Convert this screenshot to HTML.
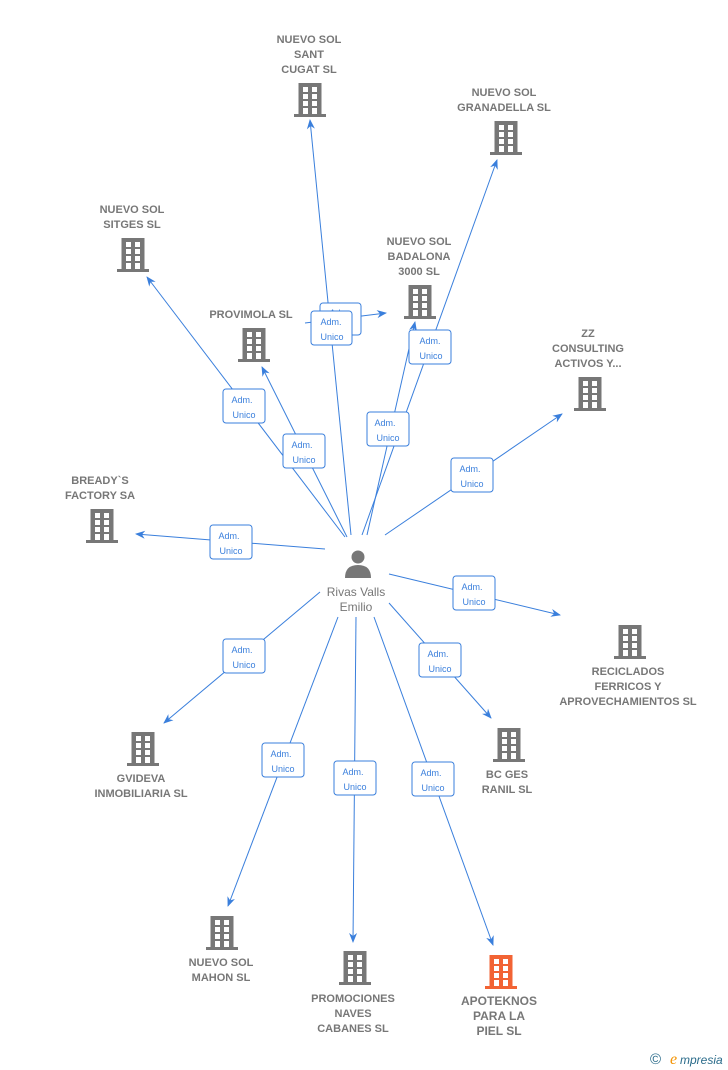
<!DOCTYPE html>
<html><head><meta charset="utf-8"><style>
html,body{margin:0;padding:0;background:#fff;}
svg{display:block;font-family:"Liberation Sans",Arial,sans-serif;}
.n{font-size:11px;fill:#777;font-weight:bold;text-anchor:middle;}
.l{stroke:#3a7fdc;stroke-width:1;fill:none;}
.b{fill:#fff;stroke:#3a7fdc;stroke-width:1;}
.bt{font-size:9px;fill:#3a7fdc;text-anchor:middle;}
</style></head><body>
<svg width="728" height="1070" viewBox="0 0 728 1070">
<defs>
<g id="bld">
<rect x="-11.5" y="0" width="23" height="32"/>
<rect x="-16" y="31" width="32" height="3"/>
<g fill="#fff">
<rect x="-7" y="4" width="5" height="5"/><rect x="2" y="4" width="5" height="5"/>
<rect x="-7" y="11" width="5" height="5"/><rect x="2" y="11" width="5" height="5"/>
<rect x="-7" y="18" width="5" height="5"/><rect x="2" y="18" width="5" height="5"/>
<rect x="-7" y="25" width="5" height="6"/><rect x="2" y="25" width="5" height="6"/>
</g>
</g>
<marker id="ar" markerWidth="10" markerHeight="10" refX="9" refY="5" orient="auto" markerUnits="userSpaceOnUse"><path d="M0,1 L10,5 L0,9 L3,5 Z" fill="#3a7fdc"/></marker>
</defs>

<!-- edges -->
<g class="l" marker-end="url(#ar)">
<line x1="351" y1="535" x2="310" y2="120"/>
<line x1="305" y1="323" x2="386" y2="313"/>
<line x1="362" y1="535" x2="497" y2="160"/>
<line x1="367" y1="535" x2="415" y2="322"/>
<line x1="345" y1="537" x2="147" y2="277"/>
<line x1="347" y1="537" x2="262" y2="367"/>
<line x1="385" y1="535" x2="562" y2="414"/>
<line x1="325" y1="549" x2="136" y2="534"/>
<line x1="389" y1="574" x2="560" y2="615"/>
<line x1="320" y1="592" x2="164" y2="723"/>
<line x1="389" y1="603" x2="491" y2="718"/>
<line x1="338" y1="617" x2="228" y2="906"/>
<line x1="356" y1="617" x2="353" y2="942"/>
<line x1="374" y1="617" x2="493" y2="945"/>
</g>

<!-- label boxes -->
<g>
<rect class="b" x="320" y="303" width="41" height="32" rx="3"/>
<text class="bt" x="340" y="316">Adm.</text>
<rect class="b" x="311" y="311" width="41" height="34" rx="3"/><text class="bt" x="331" y="325">Adm.</text><text class="bt" x="332" y="340">Unico</text>
<rect class="b" x="409" y="330" width="42" height="34" rx="3"/><text class="bt" x="430" y="344">Adm.</text><text class="bt" x="431" y="359">Unico</text>
<rect class="b" x="367" y="412" width="42" height="34" rx="3"/><text class="bt" x="385" y="426">Adm.</text><text class="bt" x="388" y="441">Unico</text>
<rect class="b" x="223" y="389" width="42" height="34" rx="3"/><text class="bt" x="242" y="403">Adm.</text><text class="bt" x="244" y="418">Unico</text>
<rect class="b" x="283" y="434" width="42" height="34" rx="3"/><text class="bt" x="302" y="448">Adm.</text><text class="bt" x="304" y="463">Unico</text>
<rect class="b" x="451" y="458" width="42" height="34" rx="3"/><text class="bt" x="470" y="472">Adm.</text><text class="bt" x="472" y="487">Unico</text>
<rect class="b" x="210" y="525" width="42" height="34" rx="3"/><text class="bt" x="229" y="539">Adm.</text><text class="bt" x="231" y="554">Unico</text>
<rect class="b" x="453" y="576" width="42" height="34" rx="3"/><text class="bt" x="472" y="590">Adm.</text><text class="bt" x="474" y="605">Unico</text>
<rect class="b" x="223" y="639" width="42" height="34" rx="3"/><text class="bt" x="242" y="653">Adm.</text><text class="bt" x="244" y="668">Unico</text>
<rect class="b" x="419" y="643" width="42" height="34" rx="3"/><text class="bt" x="438" y="657">Adm.</text><text class="bt" x="440" y="672">Unico</text>
<rect class="b" x="262" y="743" width="42" height="34" rx="3"/><text class="bt" x="281" y="757">Adm.</text><text class="bt" x="283" y="772">Unico</text>
<rect class="b" x="334" y="761" width="42" height="34" rx="3"/><text class="bt" x="353" y="775">Adm.</text><text class="bt" x="355" y="790">Unico</text>
<rect class="b" x="412" y="762" width="42" height="34" rx="3"/><text class="bt" x="431" y="776">Adm.</text><text class="bt" x="433" y="791">Unico</text>
</g>

<!-- buildings -->
<g fill="#777">
<use href="#bld" x="310" y="83"/>
<use href="#bld" x="506" y="121"/>
<use href="#bld" x="133" y="238"/>
<use href="#bld" x="420" y="285"/>
<use href="#bld" x="254" y="328"/>
<use href="#bld" x="590" y="377"/>
<use href="#bld" x="102" y="509"/>
<use href="#bld" x="630" y="625"/>
<use href="#bld" x="143" y="732"/>
<use href="#bld" x="509" y="728"/>
<use href="#bld" x="222" y="916"/>
<use href="#bld" x="355" y="951"/>
</g>
<g fill="#f26334"><use href="#bld" x="501" y="955"/></g>

<!-- person -->
<g fill="#777">
<circle cx="358" cy="557" r="6.5"/>
<path d="M345,578 Q345,565 358,565 Q371,565 371,578 Z"/>
</g>
<text x="356" y="596" font-size="12" fill="#777" text-anchor="middle">Rivas Valls</text>
<text x="356" y="611" font-size="12" fill="#777" text-anchor="middle">Emilio</text>

<!-- labels -->
<g class="n">
<text x="309" y="43">NUEVO SOL</text><text x="309" y="58">SANT</text><text x="309" y="73">CUGAT SL</text>
<text x="504" y="96">NUEVO SOL</text><text x="504" y="111">GRANADELLA SL</text>
<text x="132" y="213">NUEVO SOL</text><text x="132" y="228">SITGES SL</text>
<text x="419" y="245">NUEVO SOL</text><text x="419" y="260">BADALONA</text><text x="419" y="275">3000 SL</text>
<text x="251" y="318">PROVIMOLA SL</text>
<text x="588" y="337">ZZ</text><text x="588" y="352">CONSULTING</text><text x="588" y="367">ACTIVOS Y...</text>
<text x="100" y="484">BREADY`S</text><text x="100" y="499">FACTORY SA</text>
<text x="628" y="675">RECICLADOS</text><text x="628" y="690">FERRICOS Y</text><text x="628" y="705">APROVECHAMIENTOS SL</text>
<text x="141" y="782">GVIDEVA</text><text x="141" y="797">INMOBILIARIA SL</text>
<text x="507" y="778">BC GES</text><text x="507" y="793">RANIL SL</text>
<text x="221" y="966">NUEVO SOL</text><text x="221" y="981">MAHON SL</text>
<text x="353" y="1002">PROMOCIONES</text><text x="353" y="1017">NAVES</text><text x="353" y="1032">CABANES SL</text>
<text x="499" y="1005" font-size="12">APOTEKNOS</text><text x="499" y="1020" font-size="12">PARA LA</text><text x="499" y="1035" font-size="12">PIEL SL</text>
</g>

<text x="650" y="1064" font-size="15" fill="#2a6b8a">©</text>
<text x="670" y="1064" font-size="16" fill="#f39200" font-style="italic" font-family="Liberation Serif,serif">e</text>
<text x="680" y="1064" font-size="12" fill="#2a6b8a" font-style="italic">mpresia</text>
</svg>
</body></html>
